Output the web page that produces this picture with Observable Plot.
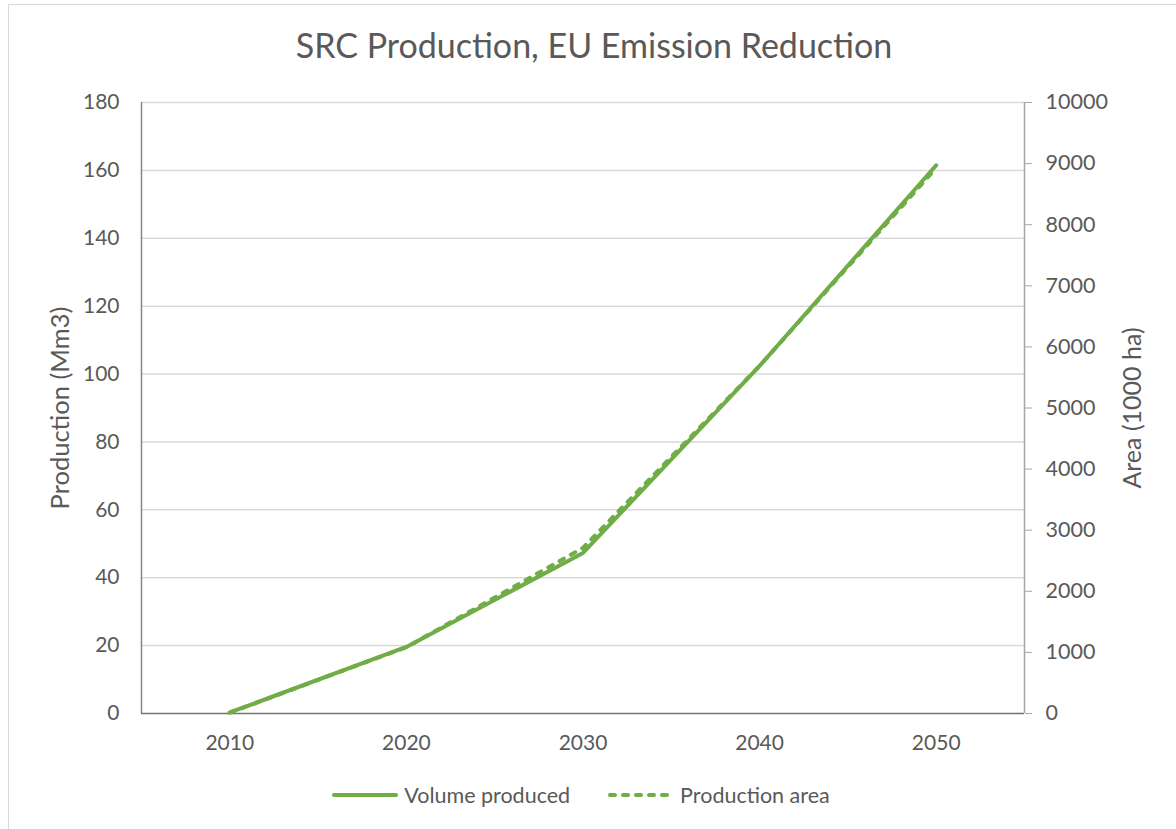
<!DOCTYPE html>
<html>
<head>
<meta charset="utf-8">
<script src="https://cdn.jsdelivr.net/npm/d3@7"></script>
<script src="https://cdn.jsdelivr.net/npm/@observablehq/plot@0.6"></script>
<style>
  html, body { margin: 0; padding: 0; background: #fff; }
  body { width: 1176px; height: 829px; position: relative; overflow: hidden; font-family: Lato, "Open Sans", sans-serif; color: #595959; }
  #frame { position: absolute; left: 8px; top: 4px; width: 1200px; height: 900px; border: 1px solid #d9d9d9; box-sizing: border-box; }
  #title { position: absolute; left: 0; width: 1188px; top: 24px; text-align: center; font-size: 34px; color: #595959; }
  #chart { position: absolute; left: 0; top: 0; }
  #legend { position: absolute; left: 0; width: 1162px; top: 782px; display: flex; justify-content: center; gap: 38px; font-size: 21.5px; color: #595959; }
  #legend .item { display: flex; align-items: center; gap: 6px; }
</style>
</head>
<body>
<div id="frame"></div>
<div id="chart"></div>
<div id="title">SRC Production, EU Emission Reduction</div>
<div id="legend"></div>
<script>
const years = [2010, 2020, 2030, 2040, 2050];
const volumeProduced = [0.3, 19.6, 47.3, 102.4, 161.5];   // Mm3 (left axis)
const productionArea = [15, 1085, 2710, 5690, 8930];     // 1000 ha (right axis)
const leftTicks = [0, 20, 40, 60, 80, 100, 120, 140, 160, 180];
const rightTicks = [0, 1000, 2000, 3000, 4000, 5000, 6000, 7000, 8000, 9000, 10000];
const seriesNames = ["Volume produced", "Production area"];

const leftMax = 180, rightMax = 10000;
const toLeft = a => a * leftMax / rightMax;
const green = "#70AD47";

const volData = years.map((y, i) => ({year: y, v: volumeProduced[i]}));
const areaData = years.map((y, i) => ({year: y, v: toLeft(productionArea[i])}));

const chart = Plot.plot({
  width: 1176,
  height: 760,
  marginTop: 102,
  marginBottom: 47,
  marginLeft: 141,
  marginRight: 152,
  style: {fontFamily: "Lato, 'Open Sans', sans-serif", fontSize: "21px", color: "#595959", background: "transparent"},
  x: {domain: [2005, 2055]},
  y: {domain: [0, leftMax]},
  marks: [
    Plot.gridY(leftTicks.filter(d => d > 0), {stroke: "#d9d9d9", strokeOpacity: 1, strokeWidth: 1.5}),
    Plot.ruleX([2005], {stroke: "#868686", strokeWidth: 1.5}),
    Plot.ruleX([2055], {stroke: "#a6a6a6", strokeWidth: 1.5}),
    Plot.ruleY([0], {stroke: "#767171", strokeWidth: 1.5}),
    Plot.axisX(years, {tickSize: 0, tickPadding: 22, tickFormat: d => String(d), label: null, fill: "#595959", fontSize: 21}),
    Plot.axisY(leftTicks, {anchor: "left", tickSize: 0, tickPadding: 22, label: null, fill: "#595959", fontSize: 21}),
    Plot.axisY(rightTicks.map(toLeft), {anchor: "right", tickSize: 7, tickPadding: 14, stroke: "#a6a6a6", strokeOpacity: 1, tickFormat: d => String(Math.round(d * rightMax / leftMax)), label: null, fill: "#595959", fontSize: 21.5}),
    Plot.text(["Production (Mm3)"], {frameAnchor: "left", textAnchor: "middle", rotate: -90, dx: -81, fill: "#595959", fontSize: 25.5}),
    Plot.text(["Area (1000 ha)"], {frameAnchor: "right", textAnchor: "middle", rotate: -90, dx: 108, fill: "#595959", fontSize: 25}),
    Plot.line(volData, {x: "year", y: "v", stroke: green, strokeWidth: 4, strokeLinejoin: "round", strokeLinecap: "round"}),
    Plot.line(areaData, {x: "year", y: "v", stroke: green, strokeWidth: 4, strokeDasharray: "5,8", strokeLinejoin: "round", strokeLinecap: "round"})
  ]
});
document.getElementById("chart").appendChild(chart);

const legend = document.getElementById("legend");
seriesNames.forEach((name, i) => {
  const item = document.createElement("div");
  item.className = "item";
  const dash = i === 1 ? ' stroke-dasharray="5,8"' : '';
  item.innerHTML = `<svg width="66" height="10"><line x1="2" y1="5" x2="64" y2="5" stroke="${green}" stroke-width="4" stroke-linecap="round"${dash}/></svg><span>${name}</span>`;
  legend.appendChild(item);
});
</script>
</body>
</html>
